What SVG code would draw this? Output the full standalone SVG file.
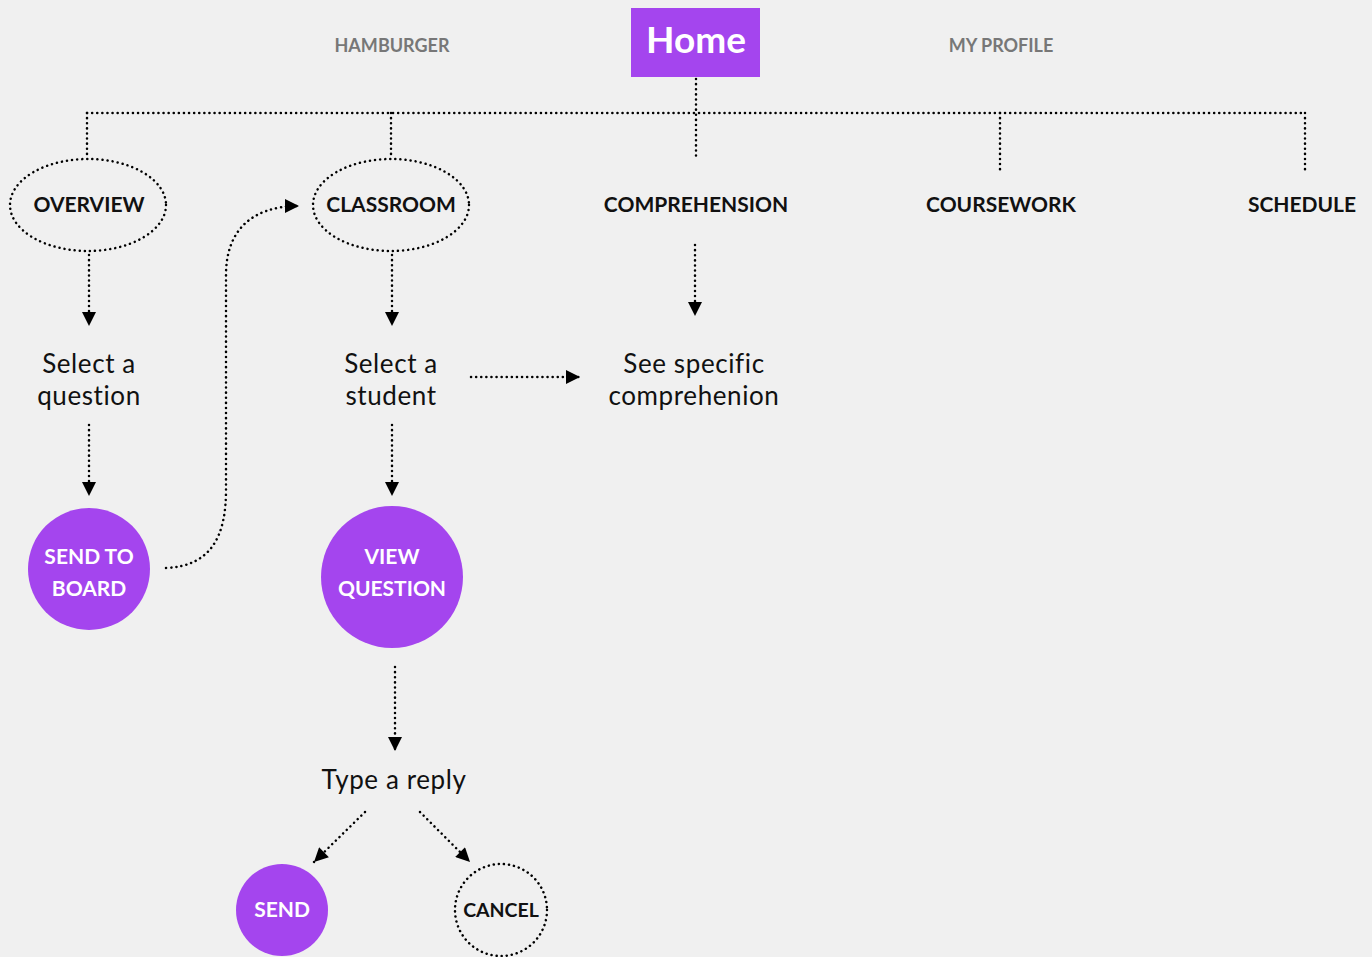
<svg xmlns="http://www.w3.org/2000/svg" width="1372" height="957" viewBox="0 0 1372 957">
<style>
.bg{fill:#f0f0f0}
.dot{fill:none;stroke:#000;stroke-width:2.5;stroke-dasharray:0.1 5;stroke-linecap:round}
.lbl{font-family:Lato,"Open Sans",sans-serif;font-weight:bold;font-size:21px;fill:#111;text-anchor:middle}
.nav{font-family:Lato,"Open Sans",sans-serif;font-weight:bold;font-size:18px;fill:#777;text-anchor:middle}
.txt{font-family:Lato,"Open Sans",sans-serif;font-size:26px;letter-spacing:0.6px;fill:#111;text-anchor:middle}
.wl{font-family:Lato,"Open Sans",sans-serif;font-weight:bold;font-size:21px;fill:#fff;text-anchor:middle}
.purple{fill:#a445ee}
</style>
<defs>
<marker id="ah" viewBox="0 0 10 10" refX="10" refY="5" markerWidth="16" markerHeight="14" markerUnits="userSpaceOnUse" orient="auto">
<path d="M0,0 L10,5 L0,10 z" fill="#000"/>
</marker>
</defs>
<rect class="bg" x="0" y="0" width="1372" height="957"/>
<g id="connectors">
<path class="dot" d="M696,79 V158"/>
<path class="dot" d="M87,113 H1305"/>
<path class="dot" d="M87,113 V158"/>
<path class="dot" d="M391,113 V158"/>
<path class="dot" d="M1000,113 V172"/>
<path class="dot" d="M1305,113 V172"/>
<path class="dot" d="M89,255 V326" marker-end="url(#ah)"/>
<path class="dot" d="M89,425 V496" marker-end="url(#ah)"/>
<path class="dot" d="M166,568 C212,566 226,535 226,490 L226,275 C226,232 250,206 299,206" marker-end="url(#ah)"/>
<path class="dot" d="M392,255 V326" marker-end="url(#ah)"/>
<path class="dot" d="M471,377 H580" marker-end="url(#ah)"/>
<path class="dot" d="M695,245 V316" marker-end="url(#ah)"/>
<path class="dot" d="M392,425 V496" marker-end="url(#ah)"/>
<path class="dot" d="M395,667 V751" marker-end="url(#ah)"/>
<path class="dot" d="M365,812 L314,862" marker-end="url(#ah)"/>
<path class="dot" d="M420,812 L470,862" marker-end="url(#ah)"/>
</g>
<g id="home">
<rect class="purple" x="631" y="8" width="129" height="69"/>
<text x="696" y="53" font-family="Lato,'Open Sans',sans-serif" font-weight="bold" font-size="37" fill="#fff" text-anchor="middle">Home</text>
</g>
<g id="hamburger"><text class="nav" x="392" y="52">HAMBURGER</text></g>
<g id="myprofile"><text class="nav" x="1001" y="52">MY PROFILE</text></g>
<g id="overview">
<ellipse class="dot" cx="88" cy="205" rx="78" ry="46"/>
<text class="lbl" x="89" y="212">OVERVIEW</text>
</g>
<g id="classroom">
<ellipse class="dot" cx="391" cy="205" rx="78" ry="46"/>
<text class="lbl" x="391" y="212">CLASSROOM</text>
</g>
<g id="comprehension"><text class="lbl" x="696" y="212">COMPREHENSION</text></g>
<g id="coursework"><text class="lbl" x="1001" y="212">COURSEWORK</text></g>
<g id="schedule"><text class="lbl" x="1302" y="212">SCHEDULE</text></g>
<g id="select-question">
<text class="txt" x="89" y="373">Select a</text>
<text class="txt" x="89" y="405">question</text>
</g>
<g id="select-student">
<text class="txt" x="391" y="373">Select a</text>
<text class="txt" x="391" y="405">student</text>
</g>
<g id="see-specific">
<text class="txt" x="694" y="373">See specific</text>
<text class="txt" x="694" y="405">comprehenion</text>
</g>
<g id="send-to-board">
<circle class="purple" cx="89" cy="569" r="61"/>
<text class="wl" x="89" y="564">SEND TO</text>
<text class="wl" x="89" y="596">BOARD</text>
</g>
<g id="view-question">
<circle class="purple" cx="392" cy="577" r="71"/>
<text class="wl" x="392" y="564">VIEW</text>
<text class="wl" x="392" y="596">QUESTION</text>
</g>
<g id="type-reply"><text class="txt" x="394" y="789">Type a reply</text></g>
<g id="send">
<circle class="purple" cx="282" cy="910" r="46"/>
<text class="wl" x="282" y="917">SEND</text>
</g>
<g id="cancel">
<circle class="dot" cx="501" cy="910" r="46"/>
<text class="lbl" x="501" y="917" style="font-size:19.5px">CANCEL</text>
</g>
</svg>
